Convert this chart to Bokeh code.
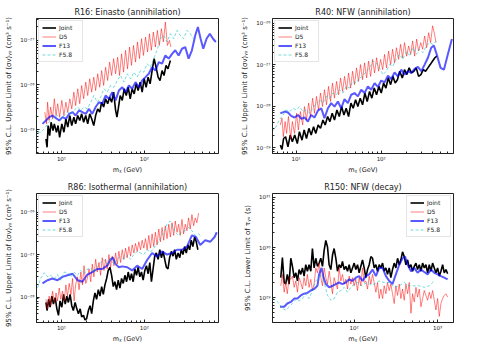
import math
from bokeh.plotting import figure
from bokeh.layouts import column, row
from bokeh.models import Range1d, FixedTicker, CustomJSTickFormatter, Legend, LegendItem
from bokeh.embed import file_html
from bokeh.resources import INLINE

FONT = "DejaVu Sans"

# ---------------- R16: Einasto (annihilation) ----------------
r16_joint_m = [6.5, 6.7, 6.9, 7.2, 7.5, 7.9, 8.2, 8.7, 9.1, 9.5, 10.1, 10.7, 11.3, 11.9, 12.6, 13.3, 14.1, 14.8, 15.7, 16.6,
               17.5, 18.5, 19.6, 20.7, 21.9, 23.1, 24.5, 25.8, 27.3, 28.9, 30.5, 32.2, 34.0, 36.0, 38.0, 40.2, 42.5, 44.9, 46.6, 48.3,
               51.0, 54.0, 57.0, 60.3, 63.7, 67.3, 71.1, 75.2, 79.4, 83.9, 88.7, 93.8, 99.1, 104.7, 110.7, 117, 123.6, 130.6, 138, 146,
               154, 163, 172, 182, 192, 205]
r16_joint_v = [6.2e-30, 4.0e-30, 1.23e-29, 7.3e-30, 1.46e-29, 9.5e-30, 1.34e-29, 8.7e-30, 1.23e-29, 6.7e-30,
               1.34e-29, 8.7e-30, 1.74e-29, 1.13e-29, 2.06e-29, 1.23e-29, 1.9e-29, 1.34e-29, 2.06e-29, 1.6e-29,
               2.25e-29, 1.46e-29, 2.06e-29, 1.34e-29, 2.25e-29, 1.74e-29, 1.23e-29, 2.06e-29, 2.9e-29, 2.45e-29,
               4.1e-29, 3.2e-29, 4.9e-29, 3.8e-29, 5.3e-29, 4.1e-29, 6.9e-29, 2.7e-29, 1.9e-29, 2.9e-29,
               5.8e-29, 4.5e-29, 8.2e-29, 5.8e-29, 8.9e-29, 4.9e-29, 8.2e-29, 6.3e-29, 1.06e-28, 7.5e-29,
               1.16e-28, 6.9e-29, 1.38e-28, 8.9e-29, 1.5e-28, 1.06e-28, 2.1e-28, 3.9e-28, 2.5e-28, 1.5e-28,
               1.26e-28, 2.1e-28, 1.63e-28, 2.75e-28, 2.3e-28, 3.55e-28]
r16_d5_m = [6.3, 6.6, 6.8, 7.1, 7.4, 7.8, 8.2, 8.6, 9.0, 9.5, 10.1, 10.7, 11.3, 11.9, 12.6, 13.3, 14.1, 14.8, 15.7, 16.6,
            17.5, 18.5, 19.6, 20.7, 21.9, 23.1, 24.5, 25.8, 27.3, 28.9, 30.5, 32.2, 34.0, 36.0, 38.0, 40.2, 42.5, 44.9, 47.5, 50.1,
            53.0, 56.0, 59.2, 62.5, 66.1, 69.8, 73.8, 78.0, 82.4, 87.1, 92.1, 97.3, 103, 109, 115, 121, 128, 135.5, 143, 151,
            160, 169, 178.6, 189, 200, 208]
r16_d5_v = [2.45e-29, 1.34e-29, 4.1e-29, 1.6e-29, 3.2e-29, 1.74e-29, 4.9e-29, 2.06e-29, 3.8e-29, 1.9e-29,
            4.5e-29, 2.06e-29, 4.1e-29, 2.45e-29, 4.9e-29, 2.9e-29, 6.9e-29, 3.45e-29, 8.2e-29, 3.8e-29,
            9.75e-29, 4.9e-29, 1.16e-28, 5.8e-29, 1.38e-28, 6.9e-29, 1.5e-28, 7.5e-29, 1.78e-28, 8.9e-29,
            2.1e-28, 9.75e-29, 2.5e-28, 1.26e-28, 3.26e-28, 1.63e-28, 3.9e-28, 1.78e-28, 4.2e-28, 1.63e-28,
            5.0e-28, 1.94e-28, 6.0e-28, 2.3e-28, 7.1e-28, 2.75e-28, 7.7e-28, 3.26e-28, 9.2e-28, 3.9e-28,
            1.09e-27, 4.6e-28, 1.19e-27, 5.5e-28, 1.41e-27, 6.0e-28, 1.54e-27, 7.1e-28, 1.68e-27, 7.7e-28,
            1.83e-27, 9.2e-28, 2.58e-27, 7.7e-28, 1.0e-27, 7.1e-28]
r16_f13_m = [5.9, 6.5, 7.1, 7.8, 8.6, 9.4, 10.3, 11.3, 12.4, 13.6, 14.8, 16.3, 17.9, 19.6, 21.5, 23.5, 25.8, 28.3, 31.0, 34.0,
             37.3, 40.9, 44.9, 49.2, 54.0, 59.2, 64.9, 71.1, 78.0, 85.5, 93.8, 103, 112.7, 123.6, 135.5, 148.6, 163, 178.6, 196, 215,
             235, 258, 283, 310, 340, 373, 409, 440, 475, 511, 560, 613, 670, 725]
r16_f13_v = [1.34e-29, 1.6e-29, 1.9e-29, 2.06e-29, 1.8e-29, 1.6e-29, 1.9e-29, 1.74e-29, 2.25e-29, 2.45e-29,
             2.06e-29, 2.7e-29, 2.45e-29, 2.25e-29, 2.9e-29, 2.25e-29, 3.2e-29, 4.1e-29, 3.8e-29, 5.8e-29,
             4.9e-29, 6.9e-29, 4.5e-29, 7.5e-29, 8.9e-29, 6.9e-29, 9.75e-29, 8.2e-29, 1.16e-28, 8.9e-29,
             1.26e-28, 1.5e-28, 1.78e-28, 2.5e-28, 2.1e-28, 3.26e-28, 3.0e-28, 4.6e-28, 3.9e-28, 5.0e-28,
             6.0e-28, 4.6e-28, 6.5e-28, 7.1e-28, 3.9e-28, 6.0e-28, 1.29e-27, 2.0e-27, 1.09e-27, 6.5e-28,
             1.09e-27, 1.41e-27, 1.09e-27, 9.2e-28]
r16_f58_m = [5.15, 5.6, 6.2, 6.8, 7.4, 8.2, 8.95, 9.8, 10.8, 11.8, 13.0, 14.2, 15.6, 17.1, 18.7, 20.5, 22.5, 24.6, 27.0, 29.6,
             32.5, 35.6, 39.0, 42.9, 47.0, 51.5, 56.5, 62.0, 68, 74.6, 81.7, 89.6, 98.2, 107.6, 118, 129.4, 141.9, 155.5, 170.6, 187,
             205, 225, 247, 270, 296, 325, 356, 391]
r16_f58_v = [8.7e-30, 8.7e-30, 1.03e-29, 1.34e-29, 1.6e-29, 1.9e-29, 2.06e-29, 1.74e-29, 2.06e-29, 2.45e-29,
             2.25e-29, 2.7e-29, 3.2e-29, 2.7e-29, 3.2e-29, 2.9e-29, 4.1e-29, 5.8e-29, 4.1e-29, 5.3e-29,
             8.2e-29, 6.9e-29, 9.75e-29, 8.9e-29, 1.26e-28, 1.63e-28, 1.16e-28, 1.78e-28, 1.38e-28, 1.94e-28,
             1.5e-28, 2.1e-28, 1.94e-28, 3.0e-28, 2.5e-28, 3.9e-28, 6.0e-28, 1.09e-27, 1.29e-27, 9.2e-28,
             1.41e-27, 1.09e-27, 1.68e-27, 1.29e-27, 1.09e-27, 1.68e-27, 1.41e-27, 1.09e-27]

# ---------------- R40: NFW (annihilation) ----------------
r40_joint_m = [6.5, 6.8, 7.1, 7.5, 8.0, 8.5, 9.0, 9.6, 10.3, 10.9, 11.7, 12.4, 13.2, 14.1, 15.0, 16.0, 17.0, 18.1, 19.3, 20.6,
               21.9, 23.4, 24.9, 26.5, 28.2, 30.1, 32.1, 34.2, 36.4, 38.7, 41.3, 44.0, 46.8, 49.9, 53.1, 56.6, 60.3, 64.2, 68.4, 72.9,
               77.6, 82.7, 88.1, 93.8, 100, 106.5, 113.5, 121, 129, 137, 146, 155, 165, 177, 188, 200, 213, 227, 242, 258,
               275, 293, 312, 332, 354, 377, 402, 428, 450]
r40_joint_v = [1.16e-29, 9.2e-30, 1.68e-29, 1.85e-29, 1.06e-29, 2.03e-29, 1.4e-29, 2.03e-29, 1.27e-29, 2.45e-29,
               1.53e-29, 2.7e-29, 1.68e-29, 2.95e-29, 2.03e-29, 3.24e-29, 2.23e-29, 3.56e-29, 2.95e-29, 4.7e-29,
               3.56e-29, 5.7e-29, 4.3e-29, 6.8e-29, 4.7e-29, 8.2e-29, 5.7e-29, 9.9e-29, 6.2e-29, 9.0e-29,
               5.7e-29, 1.2e-28, 9.0e-29, 1.44e-28, 9.9e-29, 1.58e-28, 1.09e-28, 2.1e-28, 1.31e-28, 2.3e-28,
               1.58e-28, 2.77e-28, 1.91e-28, 3.04e-28, 2.1e-28, 3.65e-28, 2.77e-28, 4.85e-28, 3.35e-28, 5.3e-28,
               3.65e-28, 4.4e-28, 7.05e-28, 4.85e-28, 7.7e-28, 5.85e-28, 8.5e-28, 6.4e-28, 7.05e-28, 8.5e-28,
               5.3e-28, 5.85e-28, 7.7e-28, 7.05e-28, 8.5e-28, 1.02e-27, 1.24e-27, 1.49e-27, 1.63e-27]
r40_d5_m = [6.5, 6.8, 7.05, 7.4, 7.7, 8.1, 8.6, 9.0, 9.55, 10.1, 10.6, 11.2, 11.9, 12.5, 13.2, 14.0, 14.7, 15.6, 16.4, 17.3,
            18.3, 19.3, 20.4, 21.5, 22.7, 24.0, 25.3, 26.7, 28.2, 29.8, 31.5, 33.2, 35.1, 37.0, 39.1, 41.3, 43.6, 46.0, 48.5, 51.2,
            54.1, 57.1, 60.3, 63.7, 67.3, 71.0, 75.0, 79.1, 83.5, 88.2, 93.1, 98.3, 104, 109.4, 115.5, 122, 129, 136, 143.5, 151,
            160, 169, 178, 188, 199, 210, 222, 234, 247, 261, 275, 291, 307, 324, 342, 361, 381, 402, 424, 440]
r40_d5_v = [3.56e-29, 5.2e-29, 1.85e-29, 4.3e-29, 2.23e-29, 5.7e-29, 1.68e-29, 4.3e-29, 2.23e-29, 6.8e-29,
            2.7e-29, 7.5e-29, 3.56e-29, 9.9e-29, 4.7e-29, 1.2e-28, 5.7e-29, 1.58e-28, 6.8e-29, 1.74e-28,
            8.2e-29, 2.1e-28, 9.9e-29, 2.52e-28, 1.09e-28, 3.04e-28, 1.31e-28, 3.65e-28, 1.58e-28, 4.0e-28,
            1.91e-28, 4.85e-28, 2.3e-28, 5.3e-28, 2.52e-28, 6.4e-28, 2.77e-28, 7.05e-28, 3.35e-28, 8.5e-28,
            4.0e-28, 1.02e-27, 4.4e-28, 1.12e-27, 4.85e-28, 1.24e-27, 5.3e-28, 1.36e-27, 6.4e-28, 1.49e-27,
            7.05e-28, 1.36e-27, 7.7e-28, 1.8e-27, 8.5e-28, 2.16e-27, 1.02e-27, 2.4e-27, 1.12e-27, 2.6e-27,
            1.36e-27, 3.15e-27, 1.49e-27, 3.45e-27, 1.63e-27, 2.86e-27, 1.8e-27, 3.8e-27, 1.63e-27, 4.2e-27,
            2.16e-27, 3.45e-27, 2.4e-27, 5.0e-27, 2.6e-27, 6.0e-27, 3.45e-27, 8.8e-27, 5.5e-27, 3.45e-27]
r40_f13_m = [6.5, 7.3, 8.0, 8.7, 9.55, 10.5, 11.5, 12.5, 13.7, 15.0, 16.4, 18.0, 19.7, 21.5, 23.6, 25.8, 28.2, 30.9, 33.8, 37.0,
             40.5, 44.4, 48.5, 53.1, 58.2, 63.7, 69.7, 76.2, 83.5, 91.4, 100, 109.4, 119.8, 131, 143.5, 157, 172, 188, 206, 225,
             247, 270, 296, 324, 354, 387, 416, 456, 499, 546, 608, 678]
r40_f13_v = [6.8e-29, 7.5e-29, 7.1e-29, 5.9e-29, 5.4e-29, 6.2e-29, 5.0e-29, 5.4e-29, 4.3e-29, 6.2e-29,
             5.4e-29, 7.9e-29, 9.0e-29, 5.2e-29, 9.0e-29, 1.2e-28, 9.9e-29, 1.31e-28, 9.0e-29, 1.5e-28,
             1.2e-28, 1.91e-28, 2.1e-28, 1.74e-28, 2.52e-28, 2.1e-28, 3.04e-28, 2.52e-28, 3.65e-28, 2.95e-28,
             4.2e-28, 3.8e-28, 5.5e-28, 4.6e-28, 6.6e-28, 5.3e-28, 7.7e-28, 5.85e-28, 7.05e-28, 6.4e-28,
             8.0e-28, 9.0e-28, 7.05e-28, 1.02e-27, 1.49e-27, 2.6e-27, 2.95e-27, 1.63e-27, 8.5e-28, 7.7e-28,
             1.8e-27, 4.2e-27]
r40_f58_m = [5.2, 5.8, 6.3, 7.0, 7.6, 8.4, 9.1, 10, 10.9, 12.0, 13.1, 14.4, 15.7, 17.2, 18.8, 20.6, 22.5, 24.7, 27.0, 29.6,
             32.4, 35.4, 38.7, 42.4, 46.4, 50.8, 55.6, 60.8, 66.6, 72.9, 79.8, 87.3, 95.6, 104.6, 114.5, 125.3, 137, 150, 164, 180,
             197, 215, 236, 258, 282, 309, 338, 370, 405, 444]
r40_f58_v = [2.45e-29, 3.24e-29, 4.7e-29, 6.2e-29, 8.2e-29, 7.5e-29, 9.0e-29, 8.2e-29, 9.9e-29, 7.5e-29,
             8.2e-29, 6.8e-29, 9.0e-29, 1.2e-28, 1.44e-28, 1.2e-28, 1.74e-28, 1.58e-28, 2.1e-28, 1.91e-28,
             2.52e-28, 2.1e-28, 3.04e-28, 2.77e-28, 4.0e-28, 3.65e-28, 4.85e-28, 5.3e-28, 7.05e-28, 8.5e-28,
             1.24e-27, 1.12e-27, 8.5e-28, 5.85e-28, 7.05e-28, 1.02e-27, 9.3e-28, 1.36e-27, 1.8e-27, 1.36e-27,
             2.16e-27, 1.63e-27, 2.6e-27, 1.8e-27, 2.4e-27, 1.97e-27, 2.86e-27, 3.45e-27, 3.15e-27, 3.8e-27]

# ---------------- R86: Isothermal (annihilation) ----------------
r86_joint_m = [6.5, 6.7, 7.0, 7.3, 7.65, 8.0, 8.4, 8.8, 9.2, 9.6, 10.1, 10.6, 11.1, 11.6, 12.1, 12.7, 13.3, 13.9, 14.6, 15.3,
               16.0, 16.8, 17.5, 18.4, 19.2, 20.1, 21.1, 22.1, 23.1, 24.2, 25.3, 26.5, 27.8, 29.1, 30.5, 31.9, 33.4, 35.0, 36.6, 38.4,
               40.2, 42.1, 44.0, 46.1, 48.3, 50.6, 53.0, 55.5, 58.1, 60.9, 63.7, 66.7, 69.8, 73.1, 76.6, 80.2, 83.9, 87.9, 92.0, 96.4,
               101, 105.7, 110.7, 115.9, 121.3, 127, 133, 139, 146, 153, 160, 167.5, 175.4, 183.7, 192, 201, 211, 221, 231, 242,
               254, 266, 278, 291, 305, 319, 334, 350, 366, 383, 402, 421, 440]
r86_joint_v = [7.45e-29, 4.8e-29, 8.85e-29, 5.75e-29, 1.05e-28, 6.8e-29, 9.65e-29, 5.25e-29, 3.7e-29, 8.1e-29,
               5.75e-29, 1.15e-28, 6.8e-29, 1.05e-28, 7.45e-29, 1.15e-28, 6.25e-29, 4.8e-29, 7.45e-29, 5.25e-29,
               4.05e-29, 5.25e-29, 3.4e-29, 3.7e-29, 2.86e-29, 3.1e-29, 4.8e-29, 6.25e-29, 4.05e-29, 8.1e-29,
               1.25e-28, 8.85e-29, 1.49e-28, 1.05e-28, 1.77e-28, 1.15e-28, 1.94e-28, 2.74e-28, 4.25e-28, 5.05e-28,
               3.26e-28, 1.77e-28, 2.3e-28, 1.49e-28, 2.5e-28, 1.63e-28, 2.74e-28, 2.1e-28, 3.26e-28, 2.3e-28,
               3.9e-28, 2.5e-28, 3.55e-28, 2.3e-28, 4.6e-28, 3.26e-28, 5.05e-28, 3.0e-28, 3.9e-28, 2.5e-28,
               4.25e-28, 5.5e-28, 3.55e-28, 6.55e-28, 2.3e-28, 4.6e-28, 9.25e-28, 1.1e-27, 7.8e-28, 1.31e-27,
               8.5e-28, 1.2e-27, 7.8e-28, 5.05e-28, 4.6e-28, 8.5e-28, 1.2e-27, 9.25e-28, 1.31e-27, 7.8e-28,
               1.1e-27, 8.5e-28, 1.31e-27, 1.01e-27, 1.56e-27, 1.1e-27, 1.7e-27, 1.31e-27, 2.2e-27, 1.56e-27,
               2.62e-27, 2.02e-27, 1.31e-27]
r86_d5_m = [6.5, 6.8, 7.1, 7.4, 7.8, 8.2, 8.6, 8.95, 9.4, 9.8, 10.3, 10.8, 11.3, 11.8, 12.4, 13.0, 13.6, 14.2, 14.8, 15.6,
            16.3, 17.1, 17.9, 18.7, 19.6, 20.5, 21.5, 22.5, 23.5, 24.6, 25.8, 27.0, 28.3, 29.6, 31.0, 32.5, 34.0, 35.6, 37.3, 39.0,
            40.9, 42.9, 44.9, 47.0, 49.2, 51.5, 54.0, 56.5, 59.2, 62.0, 64.9, 68.0, 71.1, 74.6, 78.0, 81.7, 85.5, 89.6, 93.8, 98.2,
            103, 107.6, 112.7, 118, 123.6, 129.4, 135.5, 141.9, 148.6, 155.5, 163, 170.6, 178.6, 187, 196, 205, 215, 225, 235, 247,
            258, 270, 283, 296, 310, 325, 340, 356, 373, 391, 409, 428, 449]
r86_d5_v = [8.85e-29, 5.25e-29, 1.05e-28, 6.25e-29, 1.37e-28, 7.45e-29, 1.25e-28, 8.1e-29, 1.63e-28, 8.85e-29,
            1.37e-28, 8.1e-29, 1.94e-28, 1.05e-28, 2.1e-28, 1.15e-28, 2.74e-28, 8.1e-29, 1.94e-28, 3.0e-28,
            1.49e-28, 3.9e-28, 1.94e-28, 5.5e-28, 2.1e-28, 2.74e-28, 4.6e-28, 2.3e-28, 6.0e-28, 3.0e-28,
            7.8e-28, 3.9e-28, 6.55e-28, 3.26e-28, 8.5e-28, 4.25e-28, 7.8e-28, 4.6e-28, 1.01e-27, 5.05e-28,
            9.25e-28, 5.5e-28, 1.1e-27, 6.0e-28, 1.2e-27, 6.55e-28, 1.31e-27, 7.8e-28, 1.43e-27, 8.5e-28,
            1.56e-27, 9.25e-28, 1.7e-27, 1.1e-27, 1.85e-27, 1.2e-27, 2.02e-27, 1.31e-27, 2.2e-27, 1.43e-27,
            2.4e-27, 1.31e-27, 2.86e-27, 1.43e-27, 3.1e-27, 1.56e-27, 3.4e-27, 1.7e-27, 4.05e-27, 2.02e-27,
            4.4e-27, 2.2e-27, 4.8e-27, 2.4e-27, 5.25e-27, 2.62e-27, 5.7e-27, 2.86e-27, 6.25e-27, 3.4e-27,
            5.25e-27, 2.86e-27, 6.8e-27, 3.1e-27, 5.25e-27, 3.7e-27, 7.4e-27, 4.05e-27, 8.85e-27, 4.8e-27,
            7.4e-27, 5.7e-27, 9.6e-27]
r86_f13_m = [5.9, 6.8, 7.8, 8.95, 10.3, 11.8, 13.6, 15.6, 17.9, 20.5, 23.5, 27.0, 31.0, 35.6, 39.0, 41.7, 44.9, 49.2, 54.0, 62.0,
             71.1, 81.7, 93.8, 107.6, 123.6, 141.9, 163, 187, 215, 247, 283, 325, 373, 417, 470, 540, 619, 700, 743]
r86_f13_v = [2.1e-28, 2.5e-28, 2.74e-28, 2.5e-28, 3.0e-28, 3.26e-28, 3.55e-28, 2.5e-28, 2.3e-28, 3.4e-28,
             3.9e-28, 4.6e-28, 4.6e-28, 5.5e-28, 7.8e-28, 8.5e-28, 6.0e-28, 5.05e-28, 5.3e-28, 5.05e-28,
             4.25e-28, 5.5e-28, 4.6e-28, 7.5e-28, 1.1e-27, 9.0e-28, 1.2e-27, 1.01e-27, 1.1e-27, 1.31e-27,
             1.31e-27, 1.56e-27, 2.86e-27, 2.62e-27, 1.7e-27, 2.2e-27, 2.02e-27, 2.62e-27, 3.4e-27]
r86_f58_m = [5.15, 5.6, 6.2, 6.8, 7.4, 8.2, 8.95, 9.8, 10.8, 11.8, 13.0, 14.2, 15.6, 17.1, 18.7, 20.5, 22.5, 24.6, 27.0, 29.6,
             32.5, 35.6, 39.0, 42.9, 47.0, 51.5, 56.5, 62.0, 68.0, 74.6, 81.7, 89.6, 98.2, 107.6, 118, 129.4, 141.9, 155.5, 170.6, 187,
             203, 219, 235, 258, 283, 310, 340, 373, 409, 449, 492]
r86_f58_v = [1.63e-28, 2.74e-28, 3.75e-28, 3.0e-28, 3.26e-28, 2.74e-28, 3.4e-28, 2.5e-28, 3.9e-28, 3.75e-28,
             3.0e-28, 3.9e-28, 3.26e-28, 4.25e-28, 3.55e-28, 4.6e-28, 4.8e-28, 3.9e-28, 5.05e-28, 6.55e-28,
             7.6e-28, 6.0e-28, 7.8e-28, 6.0e-28, 7.8e-28, 8.9e-28, 7.8e-28, 9.6e-28, 7.8e-28, 1.01e-27,
             1.2e-27, 1.1e-27, 1.01e-27, 1.31e-27, 1.15e-27, 1.43e-27, 1.8e-27, 2.4e-27, 3.4e-27, 5.25e-27,
             6.25e-27, 4.8e-27, 3.4e-27, 2.86e-27, 3.4e-27, 3.7e-27, 4.4e-27, 3.7e-27, 2.86e-27, 3.1e-27,
             2.62e-27]

# ---------------- R150: NFW (decay) ----------------
r150_m = [13.2, 13.8, 14.5, 15.1, 15.8, 16.6, 17.4, 18.2, 19.1, 20.0, 20.9, 21.9, 22.9, 24.0, 25.1, 26.3, 27.5, 28.8, 30.2, 31.6,
          33.1, 34.7, 36.3, 38.0, 39.8, 41.7, 43.7, 45.7, 47.9, 50.1, 52.5, 55.0, 57.5, 60.3, 63.1, 66.1, 69.2, 72.4, 75.9, 79.4,
          83.2, 87.1, 91.2, 95.5, 100, 104.7, 109.6, 114.8, 120.2, 125.9, 131.8, 138, 144.5, 151.4, 158.5, 166, 173.8, 182, 190.5, 199.5,
          209, 218.8, 229, 240, 251, 263, 275, 288, 302, 316, 331, 347, 363, 380, 398, 417, 437, 457, 479, 501,
          525, 550, 575, 603, 631, 661, 692, 724, 759, 794, 832, 871, 912, 955, 1000, 1047, 1096, 1148, 1202, 1259, 1318]
r150_joint_v = [2.51e29, 6.3e29, 2.01e29, 1.87e29, 2.92e29, 1.87e29, 6.12e29, 4.23e29, 2.51e29, 3.14e29,
                2.16e29, 3.64e29, 2.92e29, 3.93e29, 2.7e29, 4.55e29, 3.38e29, 4.55e29, 3.38e29, 9.56e29,
                3.93e29, 6.12e29, 4.23e29, 4.9e29, 6.12e29, 4.23e29, 8.9e29, 1.39e30, 1.03e30, 4.55e29,
                3.64e29, 7.1e29, 9.56e29, 6.12e29, 3.38e29, 4.55e29, 3.93e29, 5.28e29, 3.64e29, 4.23e29,
                3.38e29, 4.55e29, 3.14e29, 3.93e29, 4.9e29, 3.64e29, 4.55e29, 3.14e29, 4.23e29, 5.69e29,
                3.93e29, 2.51e29, 3.64e29, 4.55e29, 6.6e29, 6.12e29, 3.93e29, 4.55e29, 3.38e29, 4.55e29,
                3.93e29, 4.9e29, 3.38e29, 3.93e29, 2.92e29, 3.93e29, 2.51e29, 3.64e29, 4.9e29, 3.93e29,
                6.12e29, 4.55e29, 5.69e29, 8.24e29, 6.6e29, 4.55e29, 5.69e29, 3.93e29, 4.55e29, 3.38e29,
                4.23e29, 4.9e29, 3.64e29, 4.55e29, 3.38e29, 4.9e29, 3.93e29, 4.55e29, 3.14e29, 4.55e29,
                3.38e29, 4.9e29, 3.93e29, 3.14e29, 3.93e29, 2.7e29, 3.38e29, 4.55e29, 3.14e29, 3.64e29,
                3.0e29]
r150_d5_v = [1.73e29, 2.92e29, 1.29e29, 2.01e29, 1.2e29, 2.51e29, 2.33e29, 2.7e29, 1.61e29, 2.16e29,
             1.29e29, 2.51e29, 2.01e29, 1.49e29, 2.51e29, 1.73e29, 2.92e29, 1.61e29, 2.33e29, 1.39e29,
             1.87e29, 3.93e29, 3.14e29, 4.9e29, 2.51e29, 1.73e29, 3.93e29, 2.51e29, 1.87e29, 3.38e29,
             2.01e29, 1.2e29, 2.51e29, 1.87e29, 1.49e29, 3.93e29, 2.16e29, 2.92e29, 1.87e29, 2.33e29,
             1.49e29, 2.7e29, 1.87e29, 2.51e29, 1.73e29, 2.33e29, 1.39e29, 2.51e29, 1.73e29, 3.93e29,
             2.01e29, 2.16e29, 1.49e29, 2.7e29, 1.87e29, 2.92e29, 2.01e29, 1.29e29, 2.01e29, 9.6e28,
             1.49e29, 9.6e28, 1.73e29, 1.2e29, 2.01e29, 1.39e29, 1.87e29, 1.2e29, 7.65e28, 1.73e29,
             1.11e29, 1.87e29, 9.6e28, 1.49e29, 8.9e28, 1.87e29, 1.2e29, 2.01e29, 4.9e28, 1.2e29,
             8.24e28, 1.61e29, 1.03e29, 1.49e29, 6.6e28, 9.6e28, 1.39e29, 1.11e29, 8.9e28, 1.29e29,
             9.6e28, 1.39e29, 8.9e28, 5.69e28, 9.6e28, 4.23e28, 7.65e28, 9.6e28, 1.11e29, 1.2e29,
             1.03e29]
r150_f13_m = [12.9, 14.5, 15.8, 17.4, 19.1, 20.9, 22.9, 25.1, 27.5, 30.2, 33.1, 36.3, 38.0, 40.7, 43.0, 45.7, 50.1, 55.0, 60.3, 66.1,
              72.4, 79.4, 87.1, 95.5, 104.7, 114.8, 125.9, 138, 151.4, 166, 182, 199.5, 218.8, 240, 263, 288, 316, 347, 380, 407,
              437, 479, 525, 575, 631, 692, 759, 832, 912, 1000, 1096, 1202, 1318]
r150_f13_v = [6.6e28, 6.6e28, 7.65e28, 8.24e28, 9.6e28, 9.6e28, 1.11e29, 1.2e29, 1.25e29, 1.39e29,
              1.49e29, 1.73e29, 2.92e29, 3.93e29, 2.51e29, 1.87e29, 1.61e29, 1.73e29, 1.87e29, 2.01e29,
              1.87e29, 2.01e29, 2.33e29, 2.16e29, 2.51e29, 2.7e29, 2.16e29, 2.7e29, 2.92e29, 3.64e29,
              2.7e29, 3.93e29, 3.93e29, 2.7e29, 2.16e29, 1.87e29, 2.92e29, 4.55e29, 6.12e29, 6.6e29,
              4.55e29, 3.38e29, 3.93e29, 3.14e29, 3.64e29, 3.25e29, 2.92e29, 3.64e29, 3.14e29, 2.92e29,
              2.7e29, 2.51e29, 2.33e29]
r150_f58_m = [10.5, 11.5, 12.6, 13.8, 15.1, 16.6, 18.2, 20.0, 21.9, 24.0, 26.3, 28.8, 31.6, 34.7, 38.0, 40.7, 43.7, 47.9, 52.5, 57.5,
              63.1, 69.2, 75.9, 83.2, 91.2, 100, 109.6, 120.2, 131.8, 144.5, 158.5, 173.8, 199.5, 229, 263, 302, 347, 398, 457, 525,
              603, 692, 794, 912]
r150_f58_v = [9.6e28, 8.9e28, 7.65e28, 6.12e28, 5.69e28, 6.6e28, 7.65e28, 9.2e28, 8.6e28, 9.6e28,
              1.2e29, 9.6e28, 1.39e29, 2.16e29, 2.51e29, 2.92e29, 2.01e29, 1.11e29, 8.9e28, 9.6e28,
              1.29e29, 1.39e29, 1.61e29, 1.29e29, 1.61e29, 1.87e29, 2.01e29, 1.73e29, 1.87e29, 2.01e29,
              1.8e29, 1.87e29, 2.16e29, 2.01e29, 2.01e29, 1.61e29, 1.73e29, 2.01e29, 1.73e29, 1.73e29,
              1.73e29, 1.61e29, 1.73e29, 2.16e29]

LABELS = ["Joint", "D5", "F13", "F5.8"]
STYLES = {
    "Joint": dict(line_color="black", line_width=1.6),
    "D5": dict(line_color="red", line_alpha=0.5, line_width=1.0),
    "F13": dict(line_color="blue", line_alpha=0.65, line_width=2.0),
    "F5.8": dict(line_color="#00bfbf", line_alpha=0.55, line_width=1.0, line_dash="3 2"),
}

SUP_JS = """
const sup = {"-": "\\u207b", "0": "\\u2070", "1": "\\u00b9", "2": "\\u00b2", "3": "\\u00b3",
             "4": "\\u2074", "5": "\\u2075", "6": "\\u2076", "7": "\\u2077", "8": "\\u2078", "9": "\\u2079"};
const e = Math.round(Math.log10(tick));
return "10" + String(e).split("").map(c => sup[c]).join("");
"""

ANN_YLABEL = "95% C.L. Upper Limit of \u27e8\u03c3v\u27e9\u1d67\u1d67 (cm\u00b3 s\u207b\u00b9)"
DEC_YLABEL = "95% C.L. Lower Limit of \u03c4\u1d67\u1d65 (s)"
XLABEL = "m\u1d6a (GeV)"


def log_ticker(lo, hi):
    e0 = math.floor(math.log10(lo))
    e1 = math.ceil(math.log10(hi))
    majors = [10.0 ** e for e in range(e0, e1 + 1)]
    minors = [k * 10.0 ** e for e in range(e0, e1 + 1) for k in range(2, 10)]
    return FixedTicker(ticks=majors, minor_ticks=minors)


def panel(title, xr, yr, ylabel, series, legend_loc, left, top):
    p = figure(width=234, height=177 if top else 168,
               x_axis_type="log", y_axis_type="log",
               x_range=Range1d(*xr), y_range=Range1d(*yr),
               output_backend="svg", toolbar_location=None,
               min_border_left=36 if left else 38, min_border_right=16 if left else 15,
               min_border_top=18 if top else 16, min_border_bottom=24 if top else 17)
    p.title.text = title
    p.title.align = "center"
    p.title.text_font = FONT
    p.title.text_font_size = "8px"
    p.title.text_font_style = "normal"
    p.title.text_color = "#222222"
    p.title.standoff = 3
    p.grid.visible = False
    p.outline_line_color = "#222222"
    p.outline_line_width = 1
    p.background_fill_color = "white"
    p.border_fill_color = "white"

    p.xaxis.ticker = log_ticker(*xr)
    p.yaxis.ticker = log_ticker(*yr)
    for ax in (p.xaxis[0], p.yaxis[0]):
        ax.formatter = CustomJSTickFormatter(code=SUP_JS)
        ax.major_tick_in = 3
        ax.major_tick_out = 0
        ax.minor_tick_in = 2
        ax.minor_tick_out = 0
        ax.major_tick_line_color = "#222222"
        ax.minor_tick_line_color = "#222222"
        ax.axis_line_color = "#222222"
        ax.major_label_text_font = FONT
        ax.major_label_text_font_size = "5.5px"
        ax.major_label_text_color = "#222222"
        ax.major_label_standoff = 2
        ax.axis_label_text_font = FONT
        ax.axis_label_text_font_size = "6.5px"
        ax.axis_label_text_font_style = "normal"
        ax.axis_label_text_color = "#222222"
        ax.axis_label_standoff = 1
    p.xaxis.axis_label = XLABEL
    p.yaxis.axis_label = ylabel
    p.yaxis.axis_label_standoff = 4
    p.yaxis.axis_label_text_font_size = "7px"

    items = []
    for lab in LABELS:
        m, v = series[lab]
        r = p.line(m, v, **STYLES[lab])
        items.append(LegendItem(label=lab, renderers=[r]))
    leg = Legend(items=items, location=legend_loc,
                 label_text_font=FONT, label_text_font_size="6px", label_text_color="#222222",
                 glyph_width=14, glyph_height=7, label_height=7, label_standoff=3,
                 spacing=2, padding=3, margin=2,
                 border_line_color="#cccccc", border_line_width=1,
                 background_fill_color="white", background_fill_alpha=0.85)
    p.add_layout(leg)
    return p


p1 = panel("R16: Einasto (annihilation)", (5.0, 780), (2.9e-30, 3.1e-27), ANN_YLABEL,
           {"Joint": (r16_joint_m, r16_joint_v), "D5": (r16_d5_m, r16_d5_v),
            "F13": (r16_f13_m, r16_f13_v), "F5.8": (r16_f58_m, r16_f58_v)},
           "top_left", True, True)
p2 = panel("R40: NFW (annihilation)", (5.26, 708), (7.3e-30, 1.32e-26), ANN_YLABEL,
           {"Joint": (r40_joint_m, r40_joint_v), "D5": (r40_d5_m, r40_d5_v),
            "F13": (r40_f13_m, r40_f13_v), "F5.8": (r40_f58_m, r40_f58_v)},
           "top_left", False, True)
p3 = panel("R86: Isothermal (annihilation)", (5.0, 780), (2.5e-29, 2.8e-26), ANN_YLABEL,
           {"Joint": (r86_joint_m, r86_joint_v), "D5": (r86_d5_m, r86_d5_v),
            "F13": (r86_f13_m, r86_f13_v), "F5.8": (r86_f58_m, r86_f58_v)},
           "top_left", True, False)
p4 = panel("R150: NFW (decay)", (10.5, 1550), (3.2e28, 1.2e31), DEC_YLABEL,
           {"Joint": (r150_m, r150_joint_v), "D5": (r150_m, r150_d5_v),
            "F13": (r150_f13_m, r150_f13_v), "F5.8": (r150_f58_m, r150_f58_v)},
           "top_right", False, False)

layout = column(row(p1, p2), row(p3, p4))
open("out.html", "w").write(file_html(layout, INLINE))
